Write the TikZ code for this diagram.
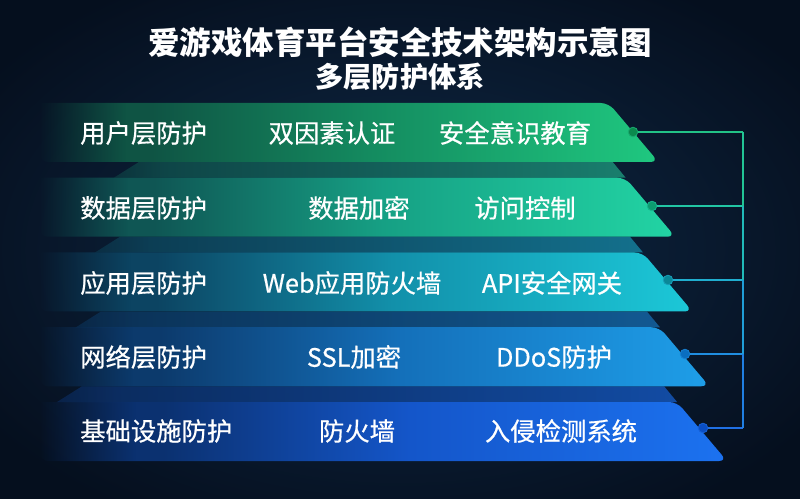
\documentclass[tikz,border=0pt]{standalone}
\usepackage{fontspec}
\newfontfamily\cjk{Noto Sans CJK SC}
\newfontfamily\cjkm[FakeBold=0.6]{Noto Sans CJK SC}
\usetikzlibrary{calc,fadings}
\definecolor{bgmid}{HTML}{0F2A48}
\definecolor{bgdark}{HTML}{050F1E}
% band colours
\definecolor{gA1}{HTML}{0F5444}\definecolor{gA2}{HTML}{148C60}\definecolor{gA3}{HTML}{1FC880}
\definecolor{gB1}{HTML}{0F5654}\definecolor{gB2}{HTML}{16A084}\definecolor{gB3}{HTML}{22D4A4}
\definecolor{gC1}{HTML}{0C4462}\definecolor{gC2}{HTML}{1290AA}\definecolor{gC3}{HTML}{1CC8D8}
\definecolor{gD1}{HTML}{0C3A6C}\definecolor{gD2}{HTML}{1470BA}\definecolor{gD3}{HTML}{1E9EE8}
\definecolor{gE1}{HTML}{0B3170}\definecolor{gE2}{HTML}{1456CA}\definecolor{gE3}{HTML}{1C72F0}
% shelf colours
\definecolor{sB1}{HTML}{0E4446}\definecolor{sB}{HTML}{1A8270}
\definecolor{sC1}{HTML}{0C3C52}\definecolor{sC}{HTML}{147490}
\definecolor{sD1}{HTML}{0B3258}\definecolor{sD}{HTML}{135C96}
\definecolor{sE1}{HTML}{0B2C60}\definecolor{sE}{HTML}{134EA8}
% dots and lines
\definecolor{dA}{HTML}{0B8A4E}\definecolor{dB}{HTML}{0C9C70}\definecolor{dC}{HTML}{0A8898}
\definecolor{dD}{HTML}{0A6EC0}\definecolor{dE}{HTML}{0A4EC4}
\definecolor{lA}{HTML}{22C286}\definecolor{lB}{HTML}{22C6A4}\definecolor{lC}{HTML}{20AECF}
\definecolor{lD}{HTML}{208EE0}\definecolor{lE}{HTML}{2070E4}
\pgfdeclarehorizontalshading{bandA}{100bp}{color(0bp)=(gA1); color(25bp)=(gA1); color(34bp)=(gA1); color(52bp)=(gA2); color(75bp)=(gA3); color(100bp)=(gA3)}
\pgfdeclarehorizontalshading{bandB}{100bp}{color(0bp)=(gB1); color(25bp)=(gB1); color(34bp)=(gB1); color(52bp)=(gB2); color(75bp)=(gB3); color(100bp)=(gB3)}
\pgfdeclarehorizontalshading{bandC}{100bp}{color(0bp)=(gC1); color(25bp)=(gC1); color(34bp)=(gC1); color(52bp)=(gC2); color(75bp)=(gC3); color(100bp)=(gC3)}
\pgfdeclarehorizontalshading{bandD}{100bp}{color(0bp)=(gD1); color(25bp)=(gD1); color(34bp)=(gD1); color(52bp)=(gD2); color(75bp)=(gD3); color(100bp)=(gD3)}
\pgfdeclarehorizontalshading{bandE}{100bp}{color(0bp)=(gE1); color(25bp)=(gE1); color(34bp)=(gE1); color(52bp)=(gE2); color(75bp)=(gE3); color(100bp)=(gE3)}
\pgfdeclarehorizontalshading{bandfadeshade}{100bp}{color(0bp)=(pgftransparent!100); color(25bp)=(pgftransparent!100); color(26.5bp)=(pgftransparent!80); color(32bp)=(pgftransparent!0); color(100bp)=(pgftransparent!0)}
\pgfdeclarefading{bandfade}{\pgfuseshading{bandfadeshade}}
\pgfdeclarehorizontalshading{shelffadeshade}{100bp}{color(0bp)=(pgftransparent!100); color(25bp)=(pgftransparent!40); color(30bp)=(pgftransparent!10); color(100bp)=(pgftransparent!0)}
\pgfdeclarefading{shelffade}{\pgfuseshading{shelffadeshade}}
\tikzset{
  lbl/.style={text=white, font=\cjkm\fontsize{19}{21}\selectfont, inner sep=0pt},
  dotnode/.style={circle, minimum size=7.2pt, inner sep=0pt, line width=0.6pt},
  conn/.style={line width=1.1pt},
}
\begin{document}
\begin{tikzpicture}[x=0.75pt,y=-0.75pt]
\useasboundingbox (0,0) rectangle (800,499);
\shade[inner color=bgmid, outer color=bgdark] (-100,-60) rectangle (900,560);
% shelves (top faces)
\foreach \k/\c/\d in {1/sB/sB1,2/sC/sC1,3/sD/sD1,4/sE/sE1}{
  \pgfmathsetmacro{\ytop}{103+74.75*(\k-1)+59}
  \pgfmathsetmacro{\ybot}{103+74.75*\k}
  \pgfmathsetmacro{\xr}{609+17*\k}
  \pgfmathsetmacro{\xl}{158-19*\k}
  \shade[left color=\d, right color=\c, path fading=shelffade]
    (\xl,\ytop) -- ({\xr-13},\ytop) -- (\xr,\ybot) -- ({\xl-25},\ybot) -- cycle;
}
% bands
\foreach \k/\s in {0/bandA,1/bandB,2/bandC,3/bandD,4/bandE}{
  \pgfmathsetmacro{\yt}{103+74.75*\k}
  \pgfmathsetmacro{\yb}{\yt+59}
  \pgfmathsetmacro{\xt}{609+17*\k}
  \pgfmathsetmacro{\xb}{\xt+50}
  \shade[shading=\s, path fading=bandfade, rounded corners=6pt]
    (40,\yt) -- (\xt,\yt) -- (\xb,\yb) -- (40,\yb) [sharp corners] -- cycle;
}
% title
\node[text=white, font=\cjk\bfseries\fontsize{23.6}{26}\selectfont] (title) at (400,42) {爱游戏体育平台安全技术架构示意图};
\node[text=white, font=\cjk\bfseries\fontsize{21.2}{24}\selectfont] (subtitle) at (400,77) {多层防护体系};
% row labels
\node[lbl, anchor=west] (r1) at (80,133) {用户层防护};
\node[lbl] (r1a) at (332,133) {双因素认证};
\node[lbl] (r1b) at (515,133) {安全意识教育};
\node[lbl, anchor=west] (r2) at (80,208) {数据层防护};
\node[lbl] (r2a) at (359,208) {数据加密};
\node[lbl] (r2b) at (525,208) {访问控制};
\node[lbl, anchor=west] (r3) at (80,283) {应用层防护};
\node[lbl] (r3a) at (352,283) {Web应用防火墙};
\node[lbl] (r3b) at (552,283) {API安全网关};
\node[lbl, anchor=west] (r4) at (80,357) {网络层防护};
\node[lbl] (r4a) at (354,357) {SSL加密};
\node[lbl] (r4b) at (554,357) {DDoS防护};
\node[lbl, anchor=west] (r5) at (80,431) {基础设施防护};
\node[lbl] (r5a) at (357,431) {防火墙};
\node[lbl] (r5b) at (561,431) {入侵检测系统};
% connector dots
\node[dotnode, fill=dA, draw=lA!60!dA] (d1) at (633,132) {};
\node[dotnode, fill=dB, draw=lB!60!dB] (d2) at (652,206) {};
\node[dotnode, fill=dC, draw=lC!60!dC] (d3) at (668,280) {};
\node[dotnode, fill=dD, draw=lD!60!dD] (d4) at (685,354) {};
\node[dotnode, fill=dE, draw=lE!60!dE] (d5) at (703,428) {};
\coordinate (j1) at (743,132);
\coordinate (j2) at (743,206);
\coordinate (j3) at (743,280);
\coordinate (j4) at (743,354);
\coordinate (j5) at (743,428);
\draw[conn, lA] (d1) -- (j1);
\draw[conn, lB] (d2) -- (j2);
\draw[conn, lC] (d3) -- (j3);
\draw[conn, lD] (d4) -- (j4);
\draw[conn, lE] (d5) -- (j5);
\draw[conn, lA!50!lB] (j1) -- (j2);
\draw[conn, lB!50!lC] (j2) -- (j3);
\draw[conn, lC!50!lD] (j3) -- (j4);
\draw[conn, lD!50!lE] (j4) -- (j5);
\end{tikzpicture}
\end{document}
